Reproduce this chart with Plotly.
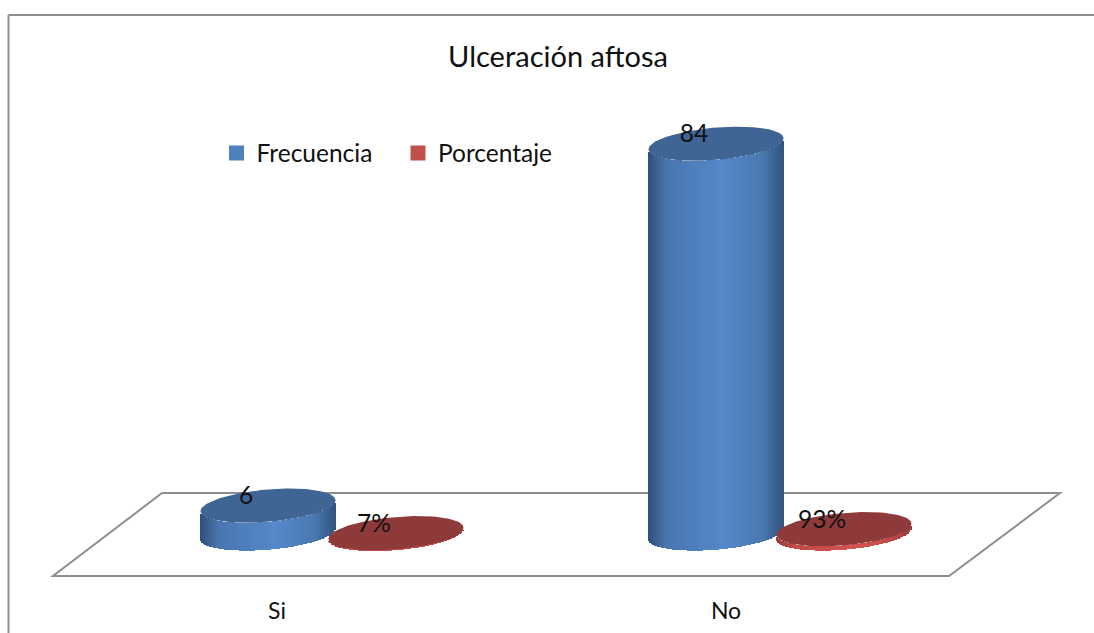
import numpy as np
import plotly.graph_objects as go

# ---- data ----
categories = ["Si", "No"]
frecuencia = [6, 84]
porcentaje = [0.07, 0.93]
porcentaje_labels = ["7%", "93%"]
title_text = "Ulceración aftosa"

# ---- category / cylinder layout (pixels of the 1094-wide x axis) ----
W, H = 1094, 633
PLOT_H = 590
BASE_PX = 533.5
PX_PER_UNIT = 4.64
tick_x = [277, 726]
blue_x = [268, 716]
red_x = [396, 844]
A, B, S = 67.5, 16.2, 5.5  # half width, half depth, tilt of the ellipses
FONT = "Lato"
TEXT = "#111111"

def v(px):
    return px / PX_PER_UNIT

def lerp_colors(stops, t):
    pos = [p for p, _ in stops]
    out = []
    for i in range(3):
        out.append(int(round(np.interp(t, pos, [c[i] for _, c in stops]))))
    return f"rgb({out[0]},{out[1]},{out[2]})"

blue_stops = [(0, (46, 78, 118)), (0.14, (72, 118, 176)), (0.55, (85, 136, 202)),
              (0.85, (74, 120, 176)), (1, (50, 84, 126))]
red_stops = [(0, (150, 58, 56)), (0.14, (190, 74, 70)), (0.55, (214, 84, 80)),
             (0.85, (192, 74, 72)), (1, (150, 60, 58))]
blue_top = "#3e6593"
red_top = "#8f3a3a"

fig = go.Figure()

def add_cylinder(cx, value, stops, top_color):
    n = 90
    u = (np.arange(n) + 0.5) / n * 2 - 1
    lower = v(S) * u - v(B) * np.sqrt(1 - u ** 2)
    colors = [lerp_colors(stops, (x + 1) / 2) for x in u]
    fig.add_trace(go.Bar(
        x=cx + u * A, y=np.full(n, value), base=lower,
        width=2 * A / n + 0.2, marker=dict(color=colors, line=dict(width=0)),
        showlegend=False, hoverinfo="skip"))
    t = np.linspace(0, 2 * np.pi, 121)
    fig.add_trace(go.Scatter(
        x=cx + A * np.cos(t),
        y=value + v(S) * np.cos(t) + v(B) * np.sin(t),
        mode="lines", fill="toself", fillcolor=top_color, line=dict(width=0),
        showlegend=False, hoverinfo="skip"))

for cx, val in zip(blue_x, frecuencia):
    add_cylinder(cx, val, blue_stops, blue_top)
for cx, val in zip(red_x, porcentaje):
    add_cylinder(cx, val, red_stops, red_top)

# data labels
fig.add_trace(go.Scatter(
    x=[c - 22 for c in blue_x + red_x],
    y=[val + v(7.5) for val in frecuencia + porcentaje],
    text=[str(f) for f in frecuencia] + porcentaje_labels,
    mode="text", textposition="middle center",
    textfont=dict(family=FONT, size=24.5, color=TEXT),
    showlegend=False, hoverinfo="skip"))

# legend entries
fig.add_trace(go.Scatter(x=[None], y=[None], mode="markers", name="Frecuencia",
                         marker=dict(symbol="square", size=15, color="#4f81bd")))
fig.add_trace(go.Scatter(x=[None], y=[None], mode="markers", name="Porcentaje",
                         marker=dict(symbol="square", size=15, color="#c0504d")))

LINE = dict(color="#8e8e8e", width=2)
def py(px):
    return 1 - px / PLOT_H

shapes = [
    dict(type="path", xref="paper", yref="paper", layer="below", line=LINE,
         path=f"M {53/W} {py(576)} L {949/W} {py(576)} L {1060/W} {py(493)} L {162/W} {py(493)} Z"),
    dict(type="line", xref="paper", yref="paper", layer="below", line=LINE,
         x0=8.5/W, x1=8.5/W, y0=py(15), y1=py(H)),
    dict(type="line", xref="paper", yref="paper", layer="below", line=LINE,
         x0=8.5/W, x1=1, y0=py(15), y1=py(15)),
]

fig.update_layout(
    width=W, height=H,
    margin=dict(l=0, r=0, t=0, b=H - PLOT_H, pad=0),
    paper_bgcolor="white", plot_bgcolor="rgba(0,0,0,0)",
    barmode="overlay", bargap=0, hovermode=False,
    title=dict(text=title_text, x=558 / W, xanchor="center", y=1 - 57 / H, yanchor="middle",
               font=dict(family=FONT, size=29, color=TEXT)),
    xaxis=dict(range=[0, W], tickmode="array", tickvals=tick_x, ticktext=categories,
               showgrid=False, zeroline=False, showline=False, ticks="",
               ticklabelstandoff=5,
               tickfont=dict(family=FONT, size=23, color=TEXT), fixedrange=True),
    yaxis=dict(range=[-(PLOT_H - BASE_PX) / PX_PER_UNIT, BASE_PX / PX_PER_UNIT],
               visible=False, fixedrange=True),
    legend=dict(orientation="h", x=216.5 / W, xanchor="left", y=py(153), yanchor="middle",
                bgcolor="rgba(0,0,0,0)", font=dict(family=FONT, size=24.5, color=TEXT),
                itemsizing="trace", entrywidth=136.5, entrywidthmode="pixels"),
    shapes=shapes,
)

fig.write_html("out.html", config={"displayModeBar": False},
               post_script="document.body.style.margin='0';document.documentElement.style.overflow='hidden';")
